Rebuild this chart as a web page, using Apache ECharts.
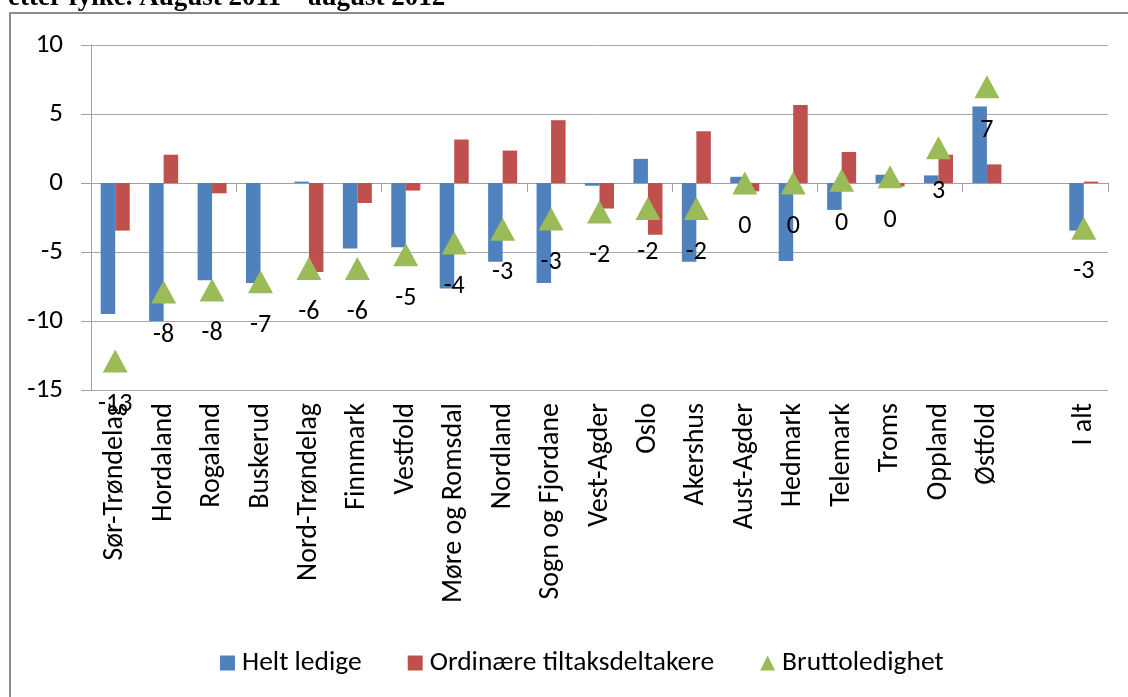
<!DOCTYPE html>
<html>
<head>
<meta charset="utf-8">
<script src="https://cdn.jsdelivr.net/npm/echarts@6/dist/echarts.min.js"></script>
<style>html,body{margin:0;padding:0;background:#fff;}#c{width:1128px;height:697px;}</style>
</head>
<body>
<div id="c"></div>
<script>
const categories = ['Sør-Trøndelag','Hordaland','Rogaland','Buskerud','Nord-Trøndelag','Finnmark','Vestfold','Møre og Romsdal','Nordland','Sogn og Fjordane','Vest-Agder','Oslo','Akershus','Aust-Agder','Hedmark','Telemark','Troms','Oppland','Østfold','','I alt'];
const heltLedige = [-9.5,-10.0,-7.05,-7.25,0.1,-4.75,-4.65,-7.65,-5.7,-7.25,-0.2,1.75,-5.7,0.45,-5.65,-1.95,0.6,0.55,5.55,null,-3.45];
const ordinaere = [-3.45,2.05,-0.75,0,-6.45,-1.45,-0.55,3.15,2.35,4.55,-1.85,-3.75,3.75,-0.6,5.65,2.25,-0.25,2.05,1.35,null,0.1];
const brutto = [-12.9,-7.9,-7.75,-7.15,-6.2,-6.2,-5.2,-4.35,-3.35,-2.6,-2.1,-1.85,-1.85,0.0,0.0,0.2,0.45,2.55,6.97,null,-3.27];
const bruttoLabels = ['-13','-8','-8','-7','-6','-6','-5','-4','-3','-3','-2','-2','-2','0','0','0','0','3','7','','-3'];
const yTicks = {min:-15, max:10, interval:5};

const chart = echarts.init(document.getElementById('c'), null, {renderer:'canvas'});
const axisFont = 'Carlito';
chart.setOption({
  animation:false,
  backgroundColor:'#fff',
  graphic:[
    {type:'rect', shape:{x:10, y:13, width:1130, height:720}, style:{fill:'none', stroke:'#8c8c8c', lineWidth:2}, silent:true, z:-1},
    {type:'text', style:{x:8, y:12, verticalAlign:'bottom', text:'etter fylke. August 2011 – august 2012', font:'bold 27px "Liberation Serif"', fill:'#000'}, z:-2}
  ],
  grid:{left:91, right:20, top:45, bottom:307, containLabel:false},
  legend:{
    left:215, top:644, itemGap:46, itemWidth:15, itemHeight:15,
    textStyle:{fontFamily:axisFont, fontSize:27.5, color:'#000', padding:[0,0,0,2]},
    data:[{name:'Helt ledige', icon:'rect'},{name:'Ordinære tiltaksdeltakere', icon:'rect'},{name:'Bruttoledighet', icon:'triangle'}]
  },
  xAxis:[
    {type:'category', data:categories, boundaryGap:true,
     axisLine:{onZero:true, onZeroAxisIndex:0, lineStyle:{color:'#a0a0a0', width:1}},
     axisTick:{show:true, length:9, lineStyle:{color:'#a0a0a0'}},
     axisLabel:{show:false}, splitLine:{show:false}},
    {type:'category', data:categories, boundaryGap:true, position:'bottom',
     axisLine:{onZero:false, show:false}, axisTick:{show:false},
     axisLabel:{rotate:90, margin:13, fontFamily:axisFont, fontSize:28, color:'#000', interval:0}}
  ],
  yAxis:{type:'value', min:yTicks.min, max:yTicks.max, interval:yTicks.interval,
    axisLine:{show:true, lineStyle:{color:'#a0a0a0'}},
    axisTick:{show:true, length:10, lineStyle:{color:'#a0a0a0'}},
    axisLabel:{fontFamily:axisFont, fontSize:27, color:'#000', margin:28},
    splitLine:{show:true, lineStyle:{color:'#a8a8a8', width:1}}},
  series:[
    {name:'Helt ledige', type:'bar', xAxisIndex:0, data:heltLedige, barWidth:14.5, barGap:'0%', itemStyle:{color:'#4F81BD'}},
    {name:'Ordinære tiltaksdeltakere', type:'bar', xAxisIndex:0, data:ordinaere, barWidth:14.5, barGap:'0%', itemStyle:{color:'#C0504D'}},
    {name:'Bruttoledighet', type:'scatter', xAxisIndex:0, data:brutto, symbol:'triangle', symbolSize:[25,23],
     itemStyle:{color:'#9BBB59', opacity:1}, z:5,
     label:{show:true, position:'bottom', distance:19, fontFamily:axisFont, fontSize:26, color:'#000',
       formatter:p=>bruttoLabels[p.dataIndex]}}
  ]
});
</script>
</body>
</html>
